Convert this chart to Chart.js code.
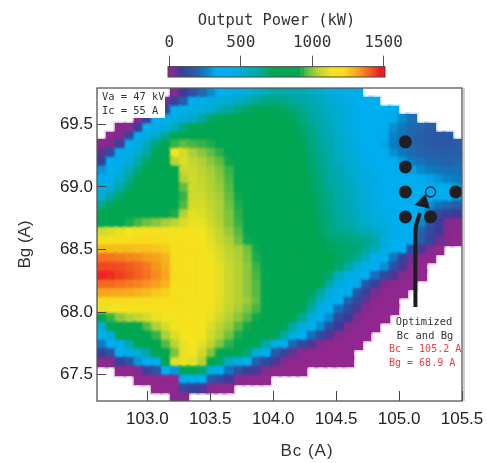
<!DOCTYPE html>
<html><head><meta charset="utf-8">
<style>html,body{margin:0;padding:0;background:#fff}#w{position:relative;width:487px;height:463px}canvas{position:absolute;left:0;top:0}</style>
<script src="https://cdn.jsdelivr.net/npm/chart.js@4/dist/chart.umd.min.js"></script>
</head><body><div id="w"><canvas id="main" width="487" height="463"></canvas><canvas id="bar" width="487" height="85"></canvas></div>
<script>
const _ = null;
const bcValues=[102.64,102.71,102.78,102.86,102.93,103.00,103.07,103.15,103.22,103.29,103.36,103.44,103.51,103.58,103.65,103.73,103.80,103.87,103.94,104.02,104.09,104.16,104.23,104.31,104.38,104.45,104.52,104.60,104.67,104.74,104.81,104.89,104.96,105.03,105.10,105.18,105.25,105.32,105.39,105.46];
const bgValues=[69.75,69.68,69.61,69.54,69.47,69.40,69.34,69.27,69.20,69.13,69.06,68.99,68.92,68.85,68.78,68.71,68.64,68.57,68.50,68.43,68.36,68.29,68.22,68.15,68.08,68.02,67.95,67.88,67.81,67.74,67.67,67.60,67.53,67.46,67.39,67.32];
const row00=[_,_,_,_,_,_,_,_,30,90,150,210,280,410,460,480,500,530,580,610,620,610,590,560,530,500,480,470,460];
const row01=[_,_,_,_,_,_,10,50,110,190,400,460,480,500,520,560,600,650,670,680,670,650,620,590,560,520,490,470,460,450,440];
const row02=[_,_,_,_,_,20,50,130,420,460,480,500,530,590,640,680,710,720,725,720,710,690,660,620,590,550,510,480,460,450,440,420,390];
const row03=[_,_,_,_,20,100,360,460,480,510,550,640,700,730,745,755,760,760,760,750,735,715,680,640,600,560,520,490,460,440,420,380,330,280,230];
const row04=[_,_,10,30,110,420,470,500,580,680,730,760,775,785,790,790,790,785,780,770,755,730,700,660,620,580,530,490,460,440,410,350,290,250,220,200,180];
const row05=[_,10,40,120,440,480,540,650,730,790,840,860,850,830,810,800,795,790,785,775,760,740,710,670,630,590,540,500,470,440,400,330,270,240,210,190,180,170,170];
const row06=[10,40,110,440,480,570,690,780,950,980,960,950,930,900,840,810,800,795,790,780,770,750,720,680,640,600,550,510,480,450,400,320,260,230,200,190,180,170,170,180];
const row07=[70,140,420,470,520,630,720,900,1150,1100,1040,1010,980,940,870,830,805,800,795,785,775,755,725,690,650,610,560,520,490,460,420,350,290,250,220,200,190,190,190,190];
const row08=[110,400,470,500,600,700,750,820,1060,1110,1070,1040,1010,980,920,860,820,805,800,790,780,760,730,695,660,620,570,530,500,470,440,400,340,300,260,240,220,210,200,210];
const row09=[300,450,480,570,680,730,760,790,900,1090,1090,1060,1030,1000,950,890,840,815,805,795,785,765,735,700,670,630,590,550,510,480,460,430,390,350,310,280,260,240,230,240];
const row10=[440,470,540,650,720,750,770,790,840,1050,1090,1070,1040,1010,960,900,850,820,810,800,790,770,740,710,680,640,600,560,520,490,470,450,420,390,360,340,320,300,270,260];
const row11=[470,510,620,700,740,760,780,790,820,980,1090,1080,1050,1020,970,910,860,825,815,805,795,775,745,715,685,650,610,570,530,500,470,460,450,430,410,400,390,370,330,300];
const row12=[520,620,700,740,760,775,790,800,820,950,1090,1090,1060,1030,980,920,870,830,820,810,800,780,750,720,690,660,620,580,540,500,470,460,450,450,430,420,410,380,340,300];
const row13=[660,720,750,770,785,800,815,830,850,970,1100,1100,1070,1040,990,930,880,835,825,815,805,785,755,725,695,665,630,590,550,510,480,460,450,440,420,370,290,240,210,190];
const row14=[730,760,780,800,820,840,860,890,930,1050,1120,1110,1080,1040,1000,940,890,845,830,820,810,790,760,730,700,670,640,600,560,520,490,470,460,440,400,320,180,120,100,90];
const row15=[850,880,900,930,960,990,1010,1030,1060,1110,1130,1130,1090,1050,1000,950,900,850,835,825,815,795,765,735,705,675,645,610,570,530,500,480,460,440,420,280,150,100,40,20];
const row16=[1090,1110,1130,1150,1170,1180,1190,1190,1190,1190,1180,1150,1110,1070,1020,970,910,860,840,830,820,800,770,740,710,680,660,650,620,590,560,520,470,440,400,190,130,90,30,15];
const row17=[1190,1210,1220,1230,1240,1240,1230,1220,1210,1200,1190,1160,1120,1080,1040,990,920,870,850,835,825,805,775,745,720,700,690,680,670,660,620,500,460,430,380,190,120,60,20,5];
const row18=[1290,1290,1290,1290,1280,1280,1270,1260,1220,1210,1200,1170,1130,1100,1060,1030,990,920,860,840,830,810,785,755,730,715,705,700,690,640,570,480,420,340,140,80,40,5];
const row19=[1390,1390,1380,1370,1360,1340,1330,1300,1220,1210,1200,1180,1140,1110,1070,1040,1000,930,870,845,835,815,795,775,750,730,710,690,650,570,450,400,250,120,60,20,5];
const row20=[1440,1440,1430,1420,1400,1380,1350,1310,1220,1210,1200,1180,1150,1120,1080,1050,1010,950,880,850,840,820,800,780,760,735,700,640,520,460,440,290,150,80,30,5];
const row21=[1480,1470,1450,1430,1410,1390,1360,1320,1220,1210,1200,1180,1150,1120,1080,1050,1010,960,890,855,840,825,805,785,750,690,560,470,450,420,230,130,80,30,10,5];
const row22=[1400,1400,1390,1380,1370,1350,1330,1300,1220,1210,1200,1180,1150,1120,1080,1050,1010,970,900,860,845,830,800,770,730,620,480,450,330,170,110,50,15,5,5];
const row23=[1320,1320,1320,1310,1300,1290,1270,1250,1215,1205,1200,1180,1150,1120,1080,1050,1010,970,900,860,845,820,780,720,640,490,450,330,170,110,50,15,5,5];
const row24=[1230,1230,1230,1230,1220,1220,1210,1200,1200,1200,1195,1180,1150,1120,1080,1050,1020,980,910,860,840,810,760,680,530,460,380,200,120,60,15,5,5];
const row25=[1130,1140,1150,1160,1170,1180,1190,1190,1190,1190,1190,1170,1140,1110,1070,1030,1000,960,890,840,820,790,720,600,470,430,220,130,80,30,5,5,5];
const row26=[850,950,1010,1040,1070,1100,1130,1150,1170,1180,1180,1160,1130,1090,1050,1010,970,920,860,820,790,740,650,500,450,280,130,90,40,10,5,5];
const row27=[500,720,790,830,890,970,1040,1100,1140,1160,1170,1150,1110,1060,1020,970,920,860,810,780,720,620,490,450,280,140,90,30,10,5,5];
const row28=[440,500,730,770,810,860,950,1040,1110,1150,1160,1140,1090,1040,990,930,870,810,770,720,620,490,450,230,130,80,30,5,5,5];
const row29=[260,420,470,610,760,810,860,970,1060,1130,1150,1120,1060,1000,940,880,820,740,620,480,420,220,130,80,30,5,5,5,5];
const row30=[110,160,440,470,510,620,770,840,1000,1130,1140,1090,1000,900,830,780,680,500,430,180,120,60,20,5,5,5,5,5];
const row31=[10,20,110,150,300,440,470,760,1120,1130,1120,1050,750,700,550,480,440,200,130,80,30,5,5,5,5,5,5,5];
const row32=[_,_,5,5,30,110,160,420,300,720,740,700,500,440,240,150,110,80,40,15,5,5,5];
const row33=[_,_,_,_,5,5,5,10,10,430,430,370,170,130,90,30,10,5,5];
const row34=[_,_,_,_,_,_,5,5,10,130,110,80,20,5,5];
const row35=[_,_,_,_,_,_,_,_,20,20];
const powerRows=[row00,row01,row02,row03,row04,row05,row06,row07,row08,row09,row10,row11,row12,row13,row14,row15,row16,row17,row18,row19,row20,row21,row22,row23,row24,row25,row26,row27,row28,row29,row30,row31,row32,row33,row34,row35];
const xTicks=[103,103.5,104,104.5,105,105.5];
const yTicks=[67.5,68,68.5,69,69.5];
const barTicks=[0,500,1000,1500];
const barValues=[-5,5,15,25,35,45,55,65,75,85,95,105,125,145,165,185,205,225,245,265,285,305,325,345,365,395,425,455,485,515,535,555,575,595,615,635,655,675,695,725,755,785,815,845,875,905,935,965,985,1005,1025,1045,1065,1085,1105,1125,1145,1165,1185,1205,1225,1245,1265,1285,1305,1325,1345,1365,1385,1405,1425,1445,1465,1485,1505];
const dotBc=[105.05,105.05,105.05,105.05,105.25,105.45];
const dotBg=[69.36,69.16,68.96,68.76,68.76,68.96];
const optimumBc=[105.25], optimumBg=[68.96];
const arrowBc=[105.13,105.13,105.135,105.165];
const arrowBg=[68.04,68.61,68.69,68.79];
const tipBc=[105.193], tipBg=[68.875];

const stops=[[0,'#93278f'],[50,'#7a2d92'],[90,'#3b3b98'],[200,'#2563ab'],[260,'#0b7cc1'],[335,'#00aeef'],[450,'#00aeef'],[640,'#00a99d'],[730,'#00a651'],[910,'#00a651'],[1030,'#a6ce39'],[1145,'#f3e41f'],[1235,'#f7dc1e'],[1350,'#f7941e'],[1490,'#ed1c24']];
function rgb(h){return [1,3,5].map(i=>parseInt(h.substr(i,2),16));}
function colorRGB(v){
  if(v<=0)return rgb(stops[0][1]);
  for(let i=1;i<stops.length;i++){ if(v<=stops[i][0]){
    const t=(v-stops[i-1][0])/(stops[i][0]-stops[i-1][0]),a=rgb(stops[i-1][1]),b=rgb(stops[i][1]);
    return a.map((c,k)=>Math.round(c+(b[k]-c)*t));}}
  return rgb(stops[stops.length-1][1]);
}
const cache={};
function cellImage(v,w,h,feather){
  const k=[v,w,h,feather].join('_'); if(cache[k])return cache[k];
  const c=document.createElement('canvas');c.width=w;c.height=h;
  const g=c.getContext('2d'),d=g.createImageData(w,h),col=colorRGB(v);
  for(let y=0;y<h;y++)for(let x=0;x<w;x++){
    const e=Math.min(x,y,w-1-x,h-1-y)+0.5,p=(y*w+x)*4;
    d.data[p]=col[0];d.data[p+1]=col[1];d.data[p+2]=col[2];
    d.data[p+3]=feather?Math.round(255*Math.min(1,e/feather)):255;
  }
  g.putImageData(d,0,0);
  return cache[k]=c;
}
const cells=[];
powerRows.forEach((r,j)=>r.forEach((v,i)=>{ if(v!==null&&v!==undefined) cells.push({x:bcValues[i],y:bgValues[j],v}); }));
const zip=(a,b)=>a.map((x,i)=>({x,y:b[i]}));
const sans='"Liberation Sans", Arial, sans-serif', mono='"DejaVu Sans Mono", monospace';
const noPad=s=>{s.paddingLeft=0;s.paddingRight=0;s.paddingTop=0;s.paddingBottom=0;};

const decor={id:'decor',
  afterDatasetsDraw(c){
    const g=c.ctx;g.save();
    g.fillStyle='#fff';g.fillRect(98,89,67,29);
    g.font='10.4px '+mono;g.textBaseline='middle';g.textAlign='left';g.fillStyle='#333';
    g.fillText('Va = 47 kV',102,97);g.fillText('Ic = 55 A',102,111);
    g.textAlign='center';g.fillStyle='#333';
    g.fillText('Optimized',424,322);g.fillText('Bc and Bg',425,336);
    g.textAlign='left';g.fillStyle='#ee3b3b';g.font='10px '+mono;
    g.fillText('Bc = 105.2 A',389,349);g.fillText('Bg = 68.9 A',389,363);
    g.restore();
  },
  afterDraw(c){
    const g=c.ctx,a=c.chartArea;g.save();
    g.strokeStyle='#d0d0d0';g.lineWidth=2;g.beginPath();g.moveTo(a.right+2,a.top);g.lineTo(a.right+2,a.bottom);g.stroke();
    g.strokeStyle='#555';g.lineWidth=1.3;g.strokeRect(a.left,a.top,a.right-a.left,a.bottom-a.top);
    g.fillStyle='#333';g.font='17px '+sans;g.textAlign='center';g.textBaseline='middle';
    if('letterSpacing' in g)g.letterSpacing='1px';
    g.fillText('Bc (A)',307,451);
    g.restore();
  }};

new Chart(document.getElementById('main'),{
  type:'scatter',
  data:{datasets:[
    {label:'Output Power (kW)',order:6,data:cells,showLine:false,pointRadius:5,pointBorderWidth:0,
     pointStyle:ctx=>ctx.raw?cellImage(ctx.raw.v,10,10,0):'rect'},
    {label:'Output Power blend',order:5,data:cells,showLine:false,pointRadius:7,pointBorderWidth:0,
     pointStyle:ctx=>ctx.raw?cellImage(ctx.raw.v,14,14,5):'rect'},
    {label:'Optimization path',order:3,type:'line',data:zip(arrowBc,arrowBg),borderColor:'#1c1c1c',borderWidth:4,tension:0.3,pointRadius:0,fill:false},
    {label:'Arrow tip',order:2,data:zip(tipBc,tipBg),pointStyle:'triangle',rotation:14,pointRadius:9,backgroundColor:'#1c1c1c',borderColor:'#1c1c1c',pointBorderWidth:0},
    {label:'Measured points',order:1,data:zip(dotBc,dotBg),pointStyle:'circle',pointRadius:6.5,backgroundColor:'#231f20',borderColor:'#231f20',pointBorderWidth:0},
    {label:'Optimized Bc and Bg',order:0,data:zip(optimumBc,optimumBg),pointStyle:'circle',pointRadius:5,backgroundColor:'rgba(0,0,0,0)',borderColor:'#17365d',pointBorderWidth:1.6}
  ]},
  options:{
    responsive:false,animation:false,events:[],
    layout:{padding:{top:88,right:25,left:0,bottom:0}},
    plugins:{legend:{display:false},tooltip:{enabled:false}},
    scales:{
      x:{type:'linear',min:102.6,max:105.5,
         afterFit(s){s.height=62;noPad(s);},
         afterBuildTicks(s){s.ticks=xTicks.map(value=>({value}));},
         grid:{drawOnChartArea:false,z:1,tickLength:-10,color:'#444',lineWidth:1},border:{display:false},
         ticks:{padding:18,autoSkip:false,maxRotation:0,color:'#222',font:{family:sans,size:17},callback:v=>v.toFixed(1)}},
      y:{type:'linear',min:67.29,max:69.79,
         afterFit(s){s.width=97;noPad(s);},
         afterBuildTicks(s){s.ticks=yTicks.map(value=>({value}));},
         grid:{drawOnChartArea:false,z:1,tickLength:-9,color:'#444',lineWidth:1},border:{display:false},
         title:{display:true,text:'Bg (A)',color:'#333',font:{family:sans,size:17},padding:{top:15,bottom:0}},
         ticks:{padding:13,autoSkip:false,color:'#222',font:{family:sans,size:17},callback:v=>v.toFixed(1)}}
    }
  },
  plugins:[decor]
});

const barFrame={id:'barFrame',afterDraw(c){const g=c.ctx,a=c.chartArea;g.save();g.strokeStyle='#444';g.lineWidth=1;g.strokeRect(a.left,a.top,a.right-a.left,a.bottom-a.top);g.restore();}};
new Chart(document.getElementById('bar'),{
  type:'scatter',
  data:{datasets:[{label:'Output Power (kW)',data:barValues.map(x=>({x,y:0,v:x})),showLine:false,pointRadius:8,pointBorderWidth:0,
    pointStyle:ctx=>ctx.raw?cellImage(Math.max(0,ctx.raw.v),6,17,0):'rect'}]},
  options:{
    responsive:false,animation:false,events:[],
    layout:{padding:{top:0,left:168,right:102,bottom:0}},
    plugins:{legend:{display:false},tooltip:{enabled:false},
      title:{display:true,text:'Output Power (kW)',fullSize:false,color:'#333',font:{family:mono,size:15.4,weight:'normal'},padding:{top:12,bottom:0}}},
    scales:{
      x:{type:'linear',position:'top',min:-10,max:1510,
         afterFit(s){noPad(s);},
         afterBuildTicks(s){s.ticks=barTicks.map(value=>({value}));},
         grid:{drawOnChartArea:false,tickLength:11,color:'#555'},border:{display:false},
         ticks:{padding:3,autoSkip:false,maxRotation:0,color:'#333',font:{family:mono,size:16},callback:v=>String(v)}},
      y:{type:'linear',display:false,min:-1,max:1}
    }
  },
  plugins:[barFrame]
});
</script></body></html>
